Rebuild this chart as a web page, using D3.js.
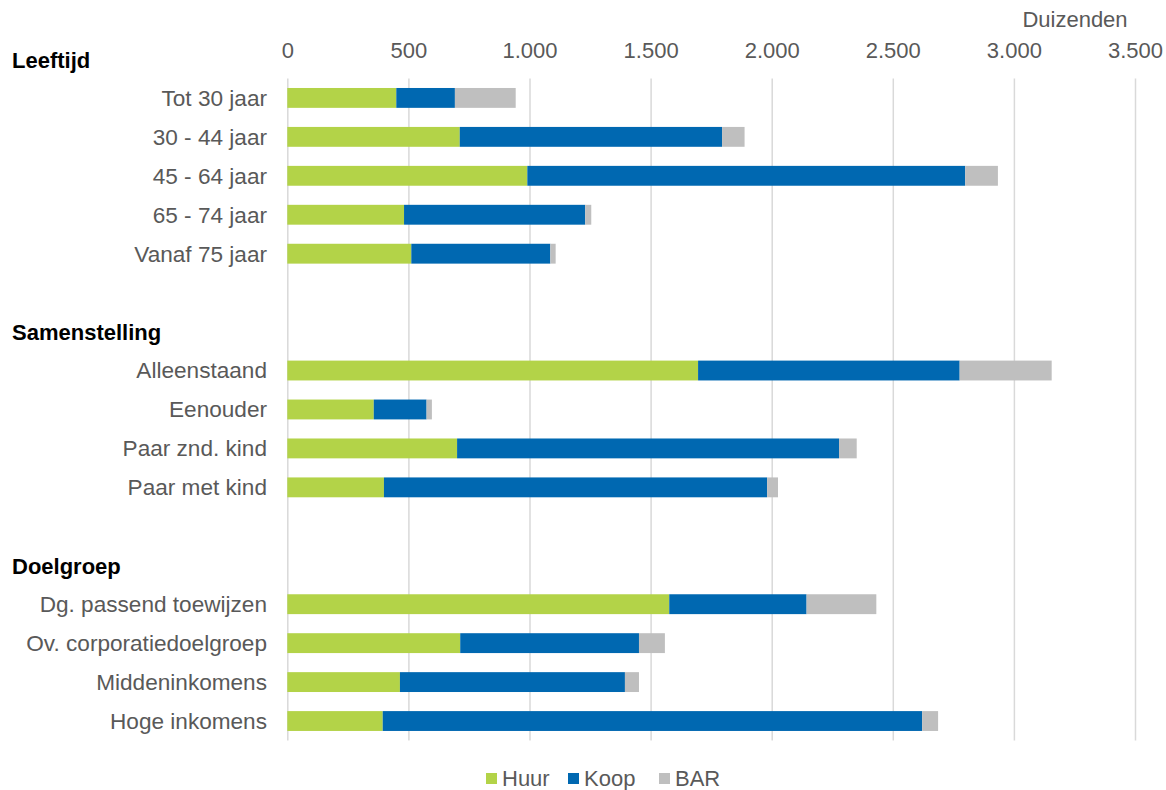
<!DOCTYPE html>
<html>
<head>
<meta charset="utf-8">
<script src="https://cdn.jsdelivr.net/npm/d3@7"></script>
<style>
  body { margin: 0; background: #fff; }
  text { font-family: "Liberation Sans", Arial, sans-serif; }
  .axis text { fill: #595959; font-size: 22px; }
  .grid line { stroke: #d9d9d9; stroke-width: 1.5; }
</style>
</head>
<body>
<div id="chart"></div>
<script>
// data (duizenden)
var groups = ["Leeftijd", "Samenstelling", "Doelgroep"];
var categories = [
  ["Tot 30 jaar", "30 - 44 jaar", "45 - 64 jaar", "65 - 74 jaar", "Vanaf 75 jaar"],
  ["Alleenstaand", "Eenouder", "Paar znd. kind", "Paar met kind"],
  ["Dg. passend toewijzen", "Ov. corporatiedoelgroep", "Middeninkomens", "Hoge inkomens"]
];
var huur = [450, 712, 991, 482, 512,   1696, 357, 701, 399,   1577, 714, 465, 394];
var koop = [242, 1083, 1808, 748, 574,  1080, 218, 1577, 1582,  567, 738, 929, 2227];
var bar  = [251, 93, 135, 25, 22,       380, 22, 73, 45,        288, 107, 58, 66];
var series = ["Huur", "Koop", "BAR"];
var colors = ["#b3d348", "#0068b1", "#bfbfbf"];
var xTicks = [0, 500, 1000, 1500, 2000, 2500, 3000, 3500];

var W = 1166, H = 790;
var plotLeft = 287.3, plotRight = 1135, plotTop = 39.5, plotBottom = 740.5;

// rows: header, categories, blank spacer between groups
var rows = [], k = 0;
groups.forEach(function(g, gi) {
  rows.push({key: "h" + gi, header: g});
  categories[gi].forEach(function(c) {
    rows.push({key: "c" + k, label: c, vals: [huur[k], koop[k], bar[k]]});
    k++;
  });
  if (gi < groups.length - 1) rows.push({key: "b" + gi});
});

var nl = d3.formatLocale({decimal: ",", thousands: ".", grouping: [3], currency: ["€", ""]});

var x = d3.scaleLinear().domain([0, 3500]).range([plotLeft, plotRight]);
var y = d3.scaleBand()
    .domain(rows.map(function(d) { return d.key; }))
    .range([plotTop, plotBottom])
    .paddingInner(0.49).paddingOuter(0.245);

var svg = d3.select("#chart").append("svg")
    .attr("width", W).attr("height", H);

var gridTop = y.step() + plotTop;
svg.append("g")
    .attr("class", "grid")
    .attr("transform", "translate(0," + plotBottom + ")")
    .call(d3.axisBottom(x).tickValues(xTicks).tickFormat("").tickSize(-(plotBottom - gridTop)).tickSizeOuter(0))
    .select(".domain").remove();

svg.append("g")
    .attr("class", "axis")
    .attr("transform", "translate(0,58)")
    .call(d3.axisTop(x).tickValues(xTicks).tickFormat(nl.format(",d")).tickSize(0).tickPadding(0))
    .select(".domain").remove();

svg.append("text")
    .attr("x", 1075).attr("y", 27)
    .attr("text-anchor", "middle")
    .style("font-size", "22px").style("fill", "#595959")
    .text("Duizenden");

var dataRows = rows.filter(function(d) { return d.vals; });

var stack = svg.selectAll(".row")
    .data(dataRows)
  .enter().append("g")
    .attr("class", "row");

stack.selectAll("rect")
    .data(function(d) {
      var acc = 0;
      return d.vals.map(function(v, i) { var s = acc; acc += v; return {key: d.key, x0: s, x1: acc, i: i}; });
    })
  .enter().append("rect")
    .attr("x", function(d) { return x(d.x0); })
    .attr("y", function(d) { return y(d.key); })
    .attr("width", function(d) { return x(d.x1) - x(d.x0); })
    .attr("height", y.bandwidth())
    .attr("fill", function(d) { return colors[d.i]; });

stack.append("text")
    .attr("x", 267)
    .attr("y", function(d) { return y(d.key) + y.bandwidth() / 2; })
    .attr("dy", "0.35em")
    .attr("text-anchor", "end")
    .style("font-size", "22.6px").style("fill", "#595959")
    .text(function(d) { return d.label; });

svg.selectAll(".header")
    .data(rows.filter(function(d) { return d.header; }))
  .enter().append("text")
    .attr("class", "header")
    .attr("x", 12)
    .attr("y", function(d) { return y(d.key) + y.bandwidth() / 2 + 1; })
    .attr("dy", "0.35em")
    .style("font-size", "22px").style("font-weight", "bold").style("fill", "#000")
    .text(function(d) { return d.header; });

// legend
var legX = [486, 568, 659];
var leg = svg.selectAll(".leg")
    .data(series)
  .enter().append("g")
    .attr("class", "leg")
    .attr("transform", function(d, i) { return "translate(" + legX[i] + ",773)"; });
leg.append("rect").attr("width", 11).attr("height", 11)
    .attr("fill", function(d, i) { return colors[i]; });
leg.append("text").attr("x", 16).attr("y", 5.5).attr("dy", "0.35em")
    .style("font-size", "22px").style("fill", "#595959")
    .text(function(d) { return d; });
</script>
</body>
</html>
